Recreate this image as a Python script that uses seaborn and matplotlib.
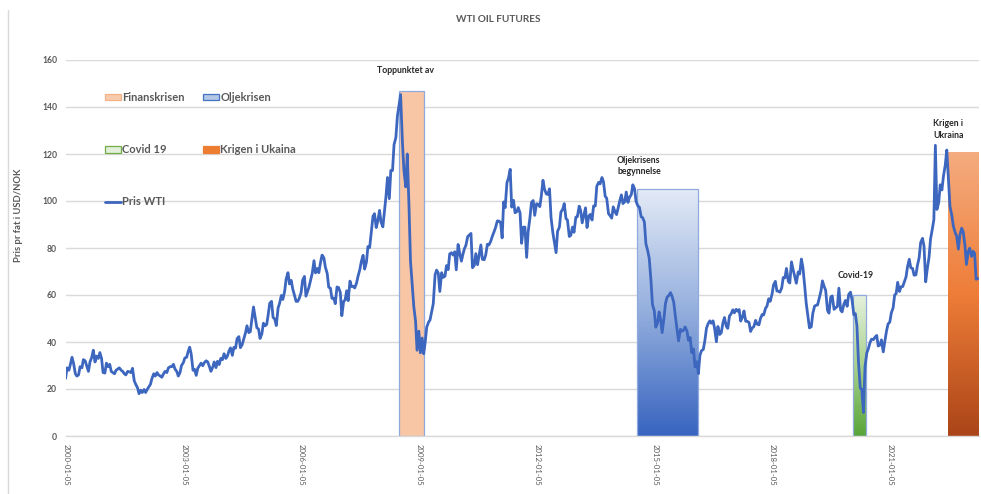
import os
import numpy as np
import pandas as pd
import matplotlib
matplotlib.use("Agg")
import matplotlib.pyplot as plt
import matplotlib.dates as mdates
from matplotlib import font_manager
from matplotlib.colors import LinearSegmentedColormap
from matplotlib.patches import Patch
from matplotlib.lines import Line2D
import seaborn as sns

# ---------------- data: WTI closes, 1st and 15th of each month ----------------
wti_2000 = [24.5, 29.0, 28.0, 30.5, 33.5, 31.0, 26.5, 25.5, 26.0, 29.5, 29.0, 32.5,
            32.0, 30.0, 27.5, 31.5, 33.5, 36.5, 31.5, 34.0, 33.0, 35.5, 33.0, 27.0]
wti_2001 = [26.8, 31.0, 29.5, 30.5, 27.5, 27.0, 26.5, 28.0, 28.5, 29.0, 28.0, 27.5,
            26.5, 26.0, 27.5, 27.3, 27.0, 28.8, 23.5, 22.0, 20.5, 18.0, 19.5, 18.5]
wti_2002 = [19.8, 18.5, 20.0, 21.0, 22.0, 24.5, 26.5, 25.5, 27.0, 26.0, 25.5, 25.0,
            26.5, 27.5, 27.0, 29.0, 29.5, 29.5, 30.5, 28.5, 27.5, 25.5, 27.0, 30.0]
wti_2003 = [31.2, 33.2, 33.5, 36.0, 37.8, 35.0, 28.0, 28.4, 25.8, 28.8, 30.0, 31.0,
            29.9, 31.2, 32.0, 31.6, 29.5, 27.5, 29.2, 31.5, 29.1, 31.8, 30.4, 33.0]
wti_2004 = [32.5, 35.0, 33.0, 34.0, 36.2, 37.5, 34.3, 37.7, 37.4, 41.4, 42.3, 37.6,
            38.8, 41.0, 43.8, 46.9, 44.0, 44.4, 50.1, 54.9, 50.1, 46.1, 45.5, 41.5]
wti_2005 = [43.5, 48.0, 46.9, 47.5, 51.7, 56.5, 57.3, 50.5, 49.7, 47.0, 54.5, 56.5,
            59.8, 58.1, 61.6, 66.9, 69.5, 64.7, 66.2, 62.6, 59.8, 57.3, 57.3, 58.6]
wti_2006 = [61.0, 66.3, 67.9, 59.5, 61.4, 63.3, 66.6, 69.3, 74.6, 69.4, 71.3, 69.5,
            73.9, 77.0, 75.8, 71.8, 69.2, 63.3, 62.9, 58.6, 58.7, 56.3, 63.4, 63.2]
wti_2007 = [61.1, 51.2, 57.3, 57.9, 61.8, 57.6, 65.9, 63.6, 63.7, 63.0, 65.1, 68.0,
            70.7, 74.1, 76.9, 71.0, 74.0, 80.6, 80.2, 86.1, 93.5, 94.6, 88.7, 91.3]
wti_2008 = [96.0, 91.0, 89.0, 95.5, 102.0, 110.0, 101.0, 113.0, 113.0, 124.0, 127.0, 136.0,
            141.0, 145.3, 125.0, 113.0, 106.0, 120.0, 98.0, 74.5, 64.0, 55.0, 49.0, 36.5]
wti_2009 = [44.6, 35.4, 41.7, 35.0, 40.0, 46.3, 48.4, 49.4, 53.2, 56.3, 68.6, 70.6,
            69.3, 61.5, 69.5, 67.5, 68.0, 72.5, 70.8, 77.5, 78.0, 77.0, 78.4, 70.7]
wti_2010 = [81.5, 78.0, 74.4, 77.3, 79.7, 81.2, 84.9, 85.5, 86.2, 71.6, 72.6, 77.6,
            72.9, 76.6, 81.3, 75.2, 75.0, 77.0, 81.6, 81.3, 82.9, 84.9, 86.8, 88.6]
wti_2011 = [91.5, 91.5, 90.8, 84.3, 99.6, 97.2, 107.9, 109.7, 113.5, 97.4, 100.3, 95.0,
            95.4, 97.2, 94.9, 82.0, 88.9, 88.9, 76.0, 86.8, 93.0, 99.4, 100.2, 93.9]
wti_2012 = [98.8, 98.7, 97.6, 102.3, 108.8, 105.1, 103.0, 102.8, 105.2, 93.0, 86.5, 82.5,
            78.0, 87.1, 88.9, 95.3, 96.5, 98.9, 92.5, 91.9, 84.9, 85.4, 88.9, 86.7]
wti_2013 = [93.1, 93.3, 97.8, 95.9, 90.7, 93.5, 97.1, 88.7, 93.5, 94.3, 91.9, 97.9,
            97.9, 106.3, 107.9, 107.3, 110.0, 108.2, 102.0, 101.2, 94.6, 93.8, 92.7, 97.5]
wti_2014 = [95.4, 94.2, 97.5, 100.3, 102.6, 98.9, 99.7, 103.8, 99.4, 101.5, 102.7, 106.9,
            105.3, 99.9, 97.9, 97.4, 93.3, 92.9, 91.0, 81.8, 78.8, 75.6, 66.2, 56.0]
wti_2015 = [53.3, 46.3, 48.2, 52.8, 49.6, 44.0, 50.1, 56.4, 59.2, 59.7, 61.0, 59.5,
            56.9, 51.4, 45.2, 40.5, 45.4, 44.6, 45.0, 46.4, 44.7, 40.7, 41.9, 35.5]
wti_2016 = [37.0, 29.4, 31.6, 26.5, 34.4, 36.3, 36.8, 40.4, 45.9, 47.7, 49.0, 48.0,
            49.0, 45.9, 40.1, 46.6, 43.2, 43.9, 48.2, 50.4, 46.7, 45.8, 51.1, 51.9]
wti_2017 = [53.7, 52.4, 53.9, 53.1, 53.8, 48.9, 50.6, 53.2, 48.8, 48.8, 48.3, 44.5,
            46.0, 46.5, 49.2, 47.6, 47.3, 50.0, 51.7, 51.5, 54.3, 55.3, 58.4, 57.3]
wti_2018 = [60.4, 64.3, 65.8, 61.7, 61.6, 61.2, 63.0, 67.4, 67.3, 71.3, 65.8, 65.1,
            74.1, 71.0, 67.7, 65.0, 69.8, 68.9, 75.3, 71.8, 63.7, 56.5, 50.9, 46.0]
wti_2019 = [46.5, 52.1, 55.3, 55.6, 55.8, 58.5, 61.6, 66.0, 63.6, 62.0, 53.5, 52.3,
            59.1, 59.6, 53.9, 54.5, 55.1, 62.9, 53.6, 52.8, 56.2, 57.7, 55.2, 60.2]
wti_2020 = [61.2, 58.0, 51.6, 52.1, 46.8, 31.7, 20.3, 19.9, 10.0, 29.4, 35.4, 37.1,
            39.8, 41.2, 41.0, 42.0, 42.8, 38.3, 38.7, 40.9, 35.8, 40.1, 44.6, 47.6]
wti_2021 = [48.5, 52.4, 54.6, 60.0, 60.6, 65.4, 61.5, 63.5, 63.6, 65.4, 67.7, 72.1,
            75.2, 71.6, 71.3, 68.4, 68.6, 72.6, 75.9, 82.3, 84.1, 80.9, 65.6, 70.9]
wti_2022 = [76.1, 83.8, 88.2, 92.1, 123.7, 96.4, 99.3, 106.9, 104.7, 110.5, 115.3, 121.7,
            108.4, 97.6, 93.9, 89.4, 86.6, 85.1, 79.5, 85.6, 88.4, 86.9, 81.2, 73.0]
wti_2023 = [78.5, 79.9, 76.4, 78.6, 77.7, 66.7, 67.0]

wti_values = (wti_2000 + wti_2001 + wti_2002 + wti_2003 + wti_2004 + wti_2005
              + wti_2006 + wti_2007 + wti_2008 + wti_2009 + wti_2010 + wti_2011
              + wti_2012 + wti_2013 + wti_2014 + wti_2015 + wti_2016 + wti_2017
              + wti_2018 + wti_2019 + wti_2020 + wti_2021 + wti_2022 + wti_2023)
wti_dates = pd.date_range("2000-01-01", periods=len(wti_values), freq="SMS")

# crisis periods shown as shaded columns
crisis_names = ["Finanskrisen", "Oljekrisen", "Covid 19", "Krigen i Ukaina"]
crisis_start = pd.to_datetime(["2008-07-01", "2014-07-24", "2020-01-25", "2022-06-27"])
crisis_end = pd.to_datetime(["2009-02-18", "2016-02-12", "2020-05-26", "2023-04-11"])
crisis_top = [147, 105, 60, 121]

# annotations
note_texts = ["Toppunktet av", "Oljekrisens\nbegynnelse", "Covid-19", "Krigen i\nUkraina"]
note_dates = pd.to_datetime(["2008-08-25", "2014-01-19", "2020-02-22", "2022-02-08"])
note_values = [155.7, 115, 68.5, 130.5]
note_align = ["center", "left", "center", "left"]

x_tick_dates = pd.to_datetime(["2000-01-05", "2003-01-05", "2006-01-05", "2009-01-05",
                               "2012-01-05", "2015-01-05", "2018-01-05", "2021-01-05"])
y_ticks = [0, 20, 40, 60, 80, 100, 120, 140, 160]

# ---------------- style ----------------
sns.set_theme(style="white")


def pick_family():
    """First family whose bold face really is a bold file."""
    for fam in ["Lato", "Roboto", "Noto Sans", "Open Sans", "DejaVu Sans"]:
        try:
            path = font_manager.findfont(
                font_manager.FontProperties(family=fam, weight="bold"),
                fallback_to_default=False)
        except Exception:
            continue
        name = os.path.basename(path).lower()
        if fam.split()[0].lower() in name and ("bold" in name or "semibold" in name):
            return fam
    return "DejaVu Sans"


FAMILY = pick_family()
plt.rcParams["font.family"] = [FAMILY, "DejaVu Sans"]
SCALE = 1.0 if FAMILY == "Lato" else 0.92

GRAY_TXT = "#595959"
GRID = "#D9D9D9"
LINE_BLUE = "#3D66BF"
EDGE_BLUE = "#8FAADC"

W, H = 981, 494
fig = plt.figure(figsize=(W / 100, H / 100), dpi=100)
ax = fig.add_axes([66 / W, (H - 436) / H, (979 - 66) / W, (436 - 60) / H])

# crisis columns
starts = mdates.date2num(crisis_start)
ends = mdates.date2num(crisis_end)
widths = ends - starts

df = pd.DataFrame({"Dato": wti_dates, "Pris WTI": wti_values})
sns.lineplot(data=df, x="Dato", y="Pris WTI", ax=ax, color=LINE_BLUE,
             linewidth=2.0, legend=False, zorder=4)

fills = {
    "Finanskrisen": None,
    "Oljekrisen": ["#E3EAF6", "#93AEDD", "#3864C0"],
    "Covid 19": ["#E6F2DF", "#A9D18E", "#58A437"],
    "Krigen i Ukaina": ["#F5AC80", "#EE7D38", "#AB4518"],
}
edges = {"Finanskrisen": EDGE_BLUE, "Oljekrisen": EDGE_BLUE,
         "Covid 19": EDGE_BLUE, "Krigen i Ukaina": "none"}

bars = ax.bar(starts, crisis_top, width=widths, align="edge", zorder=2,
              linewidth=0.9)
for bar, name in zip(bars, crisis_names):
    bar.set_edgecolor(edges[name])
    colors = fills[name]
    if colors is None:
        bar.set_facecolor("#F8C6A4")
        continue
    bar.set_facecolor("none")
    cmap = LinearSegmentedColormap.from_list(name, colors)
    grad = np.linspace(0, 1, 256).reshape(-1, 1)
    x0, w, h = bar.get_x(), bar.get_width(), bar.get_height()
    im = ax.imshow(grad, extent=[x0, x0 + w, 0, h], origin="upper",
                   aspect="auto", cmap=cmap, zorder=1.9, interpolation="bicubic")
    im.set_clip_path(bar)

# axes styling
ax.set_xlim(mdates.date2num(pd.Timestamp("2000-01-05")), ends[-1])
ax.set_ylim(0, 160)
ax.set_xlabel("")
ax.set_ylabel("")
ax.set_axisbelow(True)
ax.yaxis.grid(True, color=GRID, linewidth=1)
ax.xaxis.grid(False)
for side in ["top", "right", "left"]:
    ax.spines[side].set_visible(False)
ax.spines["bottom"].set_color(GRID)
ax.spines["bottom"].set_linewidth(1)

ax.set_yticks(y_ticks)
ax.set_yticklabels([str(v) for v in y_ticks], fontsize=6.2 * SCALE, color=GRAY_TXT,
                   fontweight="bold")
ax.tick_params(axis="y", length=0, pad=6.5)

ax.set_xticks(mdates.date2num(x_tick_dates))
ax.set_xticklabels([d.strftime("%Y-%m-%d") for d in x_tick_dates],
                   rotation=-90, fontsize=5.6 * SCALE, color=GRAY_TXT)
ax.tick_params(axis="x", length=4, width=1, color=GRID, pad=1.5)

# annotations
for txt, d, v, ha in zip(note_texts, note_dates, note_values, note_align):
    ax.text(mdates.date2num(d), v, txt, ha=ha, va="center", fontsize=6.3 * SCALE,
            fontweight="bold", color="#262626", linespacing=1.35, zorder=5)

# title and axis label
fig.text(498 / W, 1 - 20 / H, "WTI OIL FUTURES", ha="center", va="center",
         fontsize=7.2 * SCALE, fontweight="bold", color=GRAY_TXT)
fig.text(19 / W, 1 - 215 / H, "Pris pr fat i USD/NOK", rotation=90,
         ha="center", va="center", fontsize=6.8 * SCALE, fontweight="bold",
         color=GRAY_TXT)

# chart frame edge on the left
fig.add_artist(Line2D([8 / W, 8 / W], [0, 1 - 10 / H], transform=fig.transFigure,
                      color=GRID, linewidth=1))

# legend (column-major order so rows read Finanskrisen/Oljekrisen, Covid 19/Krigen)
handles = [
    Patch(facecolor="#F8CBAD", edgecolor="#F4B183", linewidth=0.9),
    Patch(facecolor="#E2EFDA", edgecolor="#70AD47", linewidth=0.9),
    Line2D([], [], color=LINE_BLUE, linewidth=2),
    Patch(facecolor="#B4C7E7", edgecolor="#4472C4", linewidth=0.9),
    Patch(facecolor="#ED7D31", edgecolor="#ED7D31", linewidth=0.9),
]
labels = [crisis_names[0], crisis_names[2], "Pris WTI", crisis_names[1], crisis_names[3]]
leg = ax.legend(handles, labels, ncol=2, loc="upper left",
                bbox_to_anchor=(105 / W, 1 - 92 / H), bbox_transform=fig.transFigure,
                frameon=False, borderpad=0, borderaxespad=0,
                labelspacing=3.7, handlelength=1.45, handleheight=0.55,
                handletextpad=0.12, columnspacing=1.6,
                prop={"weight": "bold", "size": 8 * SCALE})
for t in leg.get_texts():
    t.set_color(GRAY_TXT)

fig.savefig("out.png", dpi=100)
